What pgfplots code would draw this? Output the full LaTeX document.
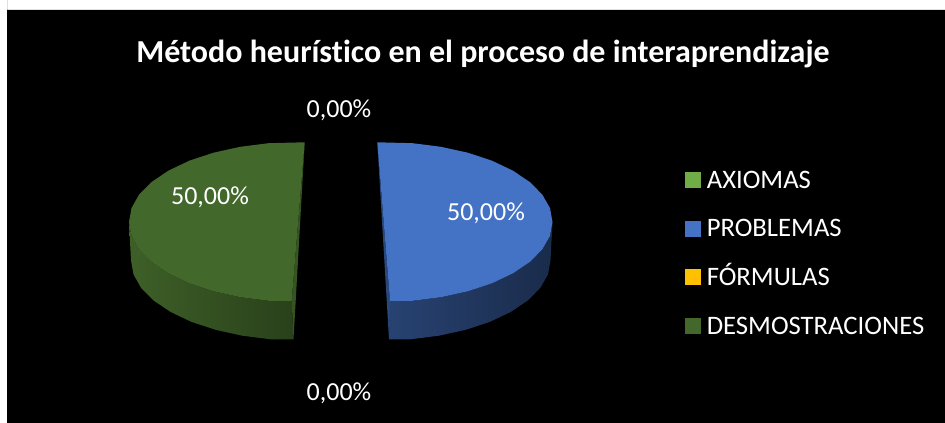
\documentclass[border=0pt]{standalone}
\usepackage{fontspec}
\setmainfont[Ligatures=NoCommon]{Carlito}
\usepackage{pgfplots}
\pgfplotsset{compat=1.18}
\definecolor{axiomas}{HTML}{70AD47}
\definecolor{problemas}{HTML}{4472C4}
\definecolor{formulas}{HTML}{FFC000}
\definecolor{demos}{HTML}{43682B}
\begin{document}
\begin{tikzpicture}
\begin{axis}[
    scale only axis,
    width=708.75pt,
    height=317.25pt,
    xmin=0, xmax=945,
    ymin=0, ymax=423,
    y dir=reverse,
    axis lines=none,
    clip=false,
    legend style={
        at={(axis cs:685,169.5)},
        anchor=north west,
        draw=none,
        fill=none,
        text=white,
        font=\fontsize{20pt}{24pt}\selectfont,
        row sep=21pt,
        inner sep=0pt,
        nodes={inner ysep=0pt, inner xsep=4.5pt, text height=14pt, text depth=1.4pt},
    },
    legend cell align=left,
    legend image code/.code={
        \fill[#1] (0pt,-5.6pt) rectangle (11.25pt,5.6pt);
    },
]

% background
\addplot[fill=white, draw=none, forget plot] coordinates {(0,0) (945,0) (945,423) (0,423)} \closedcycle;
\addplot[fill=black, draw=none, forget plot] coordinates {(7,10) (945,10) (945,423) (7,423)} \closedcycle;

% DESMOSTRACIONES, side wall
\addplot[left color=demos!92!black, right color=demos!62!black, draw=none, forget plot] coordinates {
    (129,222) (131.5,235.9) (139.1,249.4) (151.6,262) (168.5,273.4) (189.3,283.3)
    (213.5,291.3) (240.2,297.2) (268.6,300.8) (291.7,301) (293.5,339.5)
    (270.6,339.3) (242.2,335.7) (215.5,329.8) (191.3,321.8) (170.5,311.9)
    (153.6,300.5) (141.1,287.9) (133.5,274.4) (131,260.5)
} -- cycle;
% cut edge
\addplot[fill=demos!80!black, draw=none, forget plot] coordinates {
    (304.7,142.3) (293.5,339.5) (291.7,301)
} -- cycle;
% top face
\addplot[fill=demos, draw=none, forget plot] coordinates {
    (304.7,142.3) (268.6,143.2) (240.2,146.8) (213.5,152.7) (189.3,160.7) (168.5,170.6)
    (151.6,182) (139.1,194.6) (131.5,208.1) (129,222) (131.5,235.9) (139.1,249.4)
    (151.6,262) (168.5,273.4) (189.3,283.3) (213.5,291.3) (240.2,297.2) (268.6,300.8)
    (291.7,301)
} -- cycle;

% PROBLEMAS, side wall
\addplot[left color=problemas!58!black, right color=problemas!38!black, draw=none, forget plot] coordinates {
    (552.5,222) (550,235.9) (542.3,249.4) (529.8,262) (512.8,273.4) (492,283.3)
    (467.8,291.3) (441,297.2) (412.5,300.8) (390,301) (389,339.3)
    (410.5,339.3) (439,335.7) (465.8,329.8) (490,321.8) (510.8,311.9)
    (527.8,300.5) (540.3,287.9) (548,274.4) (550.5,260.5)
} -- cycle;
\addplot[fill=problemas!62!black, draw=none, forget plot] coordinates {
    (377.3,142.3) (390,301) (389,339.3)
} -- cycle;
\addplot[fill=problemas, draw=none, forget plot] coordinates {
    (377.3,142.3) (412.5,143.2) (441,146.8) (467.8,152.7) (492,160.7) (512.8,170.6)
    (529.8,182) (542.3,194.6) (550,208.1) (552.5,222) (550,235.9) (542.3,249.4)
    (529.8,262) (512.8,273.4) (492,283.3) (467.8,291.3) (441,297.2) (412.5,300.8)
    (390,301)
} -- cycle;

% labels
\node[text=white, font=\bfseries\fontsize{24pt}{28pt}\selectfont] at (axis cs:483,54) {Método heurístico en el proceso de interaprendizaje};
\node[text=white, font=\fontsize{19.5pt}{23pt}\selectfont] at (axis cs:339,110) {0,00\%};
\node[text=white, font=\fontsize{19.5pt}{23pt}\selectfont] at (axis cs:339,393) {0,00\%};
\node[text=white, font=\fontsize{19.5pt}{23pt}\selectfont] at (axis cs:210,197) {50,00\%};
\node[text=white, font=\fontsize{19.5pt}{23pt}\selectfont] at (axis cs:486,213) {50,00\%};

\addlegendimage{axiomas}
\addlegendentry{AXIOMAS}
\addlegendimage{problemas}
\addlegendentry{PROBLEMAS}
\addlegendimage{formulas}
\addlegendentry{FÓRMULAS}
\addlegendimage{demos}
\addlegendentry{DESMOSTRACIONES}
\end{axis}
\end{tikzpicture}
\end{document}
